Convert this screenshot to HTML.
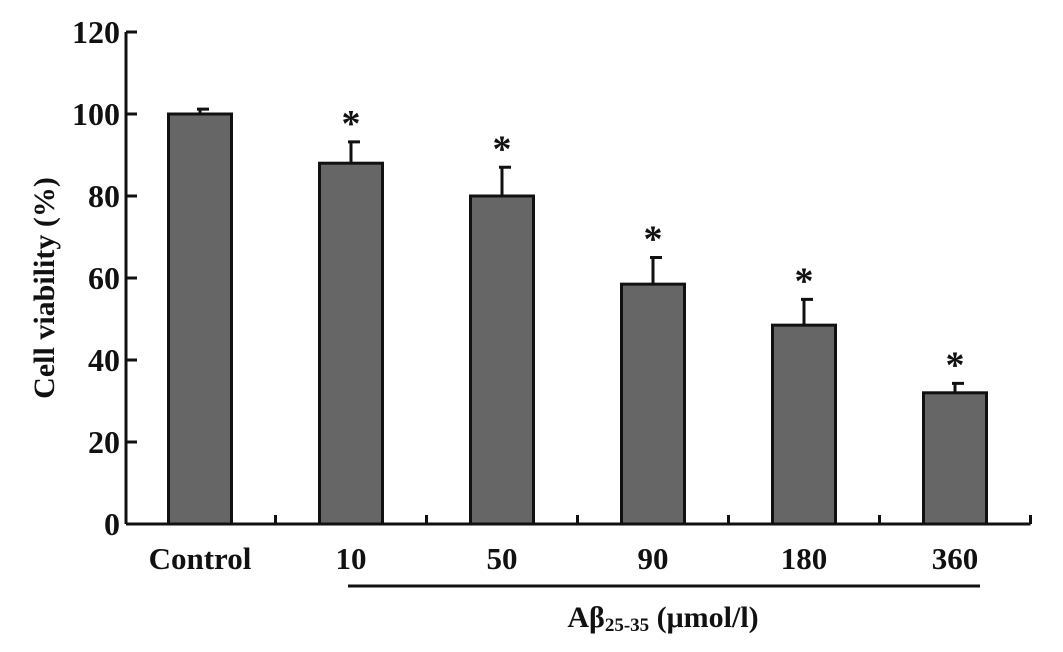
<!DOCTYPE html>
<html><head><meta charset="utf-8"><style>
body{margin:0;background:#fff;}
svg text{font-family:"Liberation Serif","Times New Roman",serif;font-weight:bold;fill:#111;}
</style></head><body>
<svg id="chart" width="1063" height="647" viewBox="0 0 1063 647">
<g id="plot"></g>
</svg>
<script>
const categories=["Control","10","50","90","180","360"];
const values=[100,88,80,58.5,48.5,32];
const errors=[1.2,5.2,7,6.5,6.3,2.3];
const significant=[false,true,true,true,true,true];
const yTicks=[0,20,40,60,80,100,120];
const NS="http://www.w3.org/2000/svg";
const g=document.getElementById('plot');
const x0=126,y0=524,yTop=32,step=151,barW=63,firstCenter=200;
function ys(v){return y0-(v/120)*(y0-yTop);}
function xc(i){return firstCenter+i*step;}
function mk(tag,attrs,parent){const e=document.createElementNS(NS,tag);for(const k in attrs)e.setAttribute(k,attrs[k]);(parent||g).appendChild(e);return e;}
categories.forEach((c,i)=>{
  const top=ys(values[i]);
  const b=mk('rect',{x:xc(i)-barW/2,y:top,width:barW,height:y0-top,fill:'#666',stroke:'#111','stroke-width':3});
  
  
  const ey=ys(values[i]+errors[i]);
  const e=mk('path',{d:`M${xc(i)} ${top}V${ey}M${xc(i)-3} ${ey}H${xc(i)+9}`,stroke:'#111','stroke-width':3,fill:'none'});
  
  
  if(significant[i]){
    const s=mk('text',{x:xc(i),y:ey-6,'text-anchor':'middle','font-size':38});
    s.textContent='*';
    
    
  }
  const l=mk('text',{x:xc(i),y:569,'text-anchor':'middle','font-size':31});
  l.textContent=c;
  
  
});
const ya=mk('path',{d:`M${x0} ${yTop}V${y0}`,stroke:'#111','stroke-width':3,fill:'none'});


const xEnd=firstCenter+(categories.length-0.5)*step;
const xa=mk('path',{d:`M${x0} ${y0}H${xEnd}`,stroke:'#111','stroke-width':3,fill:'none'});


categories.forEach((c,i)=>{
  const tx=firstCenter+(i+0.5)*step;
  const t=mk('path',{d:`M${tx} ${y0}V${y0-9}`,stroke:'#111','stroke-width':3});
  
  
});
yTicks.forEach(v=>{
  const t=mk('path',{d:`M${x0} ${ys(v)}H${x0+11}`,stroke:'#111','stroke-width':3});
  
  
  const l=mk('text',{x:x0-6,y:ys(v)+11,'text-anchor':'end','font-size':32});
  l.textContent=v;
  
  
});
const ul=mk('path',{d:`M348 586H980`,stroke:'#111','stroke-width':3});


</script>
<svg style="position:absolute;left:0;top:0" width="1063" height="647">
<text x="663" y="627" text-anchor="middle" font-size="30">Aβ<tspan font-size="19" dy="4">25-35</tspan><tspan dy="-4"> (μmol/l)</tspan></text>
<text x="0" y="0" transform="translate(54,288) rotate(-90)" text-anchor="middle" font-size="30">Cell viability (%)</text>
</svg>
</body></html>
